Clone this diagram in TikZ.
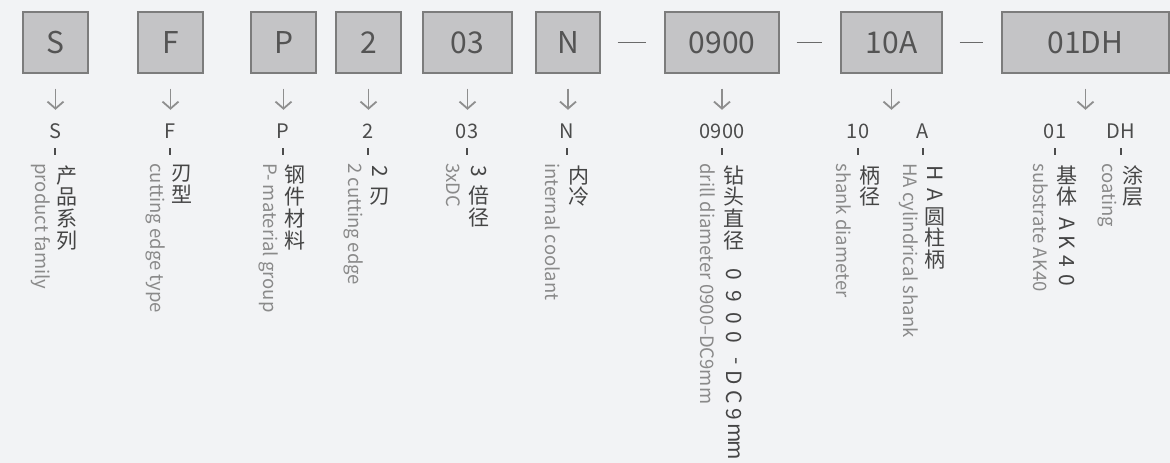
\documentclass[tikz,border=0pt]{standalone}
\usepackage{fontspec}
\setmainfont{Noto Sans CJK SC}
\usetikzlibrary{arrows.meta}

\definecolor{bgcol}{HTML}{F2F3F5}
\definecolor{boxfill}{HTML}{C4C4C6}
\definecolor{boxline}{HTML}{7C7C7C}
\definecolor{boxtext}{HTML}{545454}
\definecolor{arrowcol}{HTML}{8E8E8E}
\definecolor{sepcol}{HTML}{6A6A6A}
\definecolor{codecol}{HTML}{4C4C4C}
\definecolor{cncol}{HTML}{454545}
\definecolor{encol}{HTML}{8A8A8A}

\newcommand\rlat[1]{\rotatebox[origin=c]{-90}{#1}}

\tikzset{
  codebox/.style={draw=boxline, fill=boxfill, line width=1.2pt, minimum height=61pt,
    inner sep=0pt, text=boxtext, font=\fontsize{30}{30}\selectfont},
  codetxt/.style={anchor=base, inner sep=0pt, text height=15pt, text depth=0pt,
    text=codecol, font=\fontsize{20}{20}\selectfont},
  cnstack/.style={anchor=north, inner sep=0pt, align=center, text=cncol,
    font=\fontsize{21}{21.75}\selectfont},
  enstack/.style={rotate=-90, anchor=west, inner sep=0pt, text=encol,
    font=\fontsize{18.5}{18.5}\selectfont},
  downarrow/.style={draw=arrowcol, line width=1.8pt, -{Straight Barb[length=7pt,width=16pt]},
    shorten <=15pt, shorten >=13pt},
  tickline/.style={draw=codecol, line width=1.6pt},
  sepline/.style={draw=sepcol, line width=1.6pt, shorten <=17pt, shorten >=18pt}
}

\begin{document}
\begin{tikzpicture}[x=1pt, y=-1pt]
  \useasboundingbox (0,0) rectangle (1170,463);
  \fill[bgcol] (0,0) rectangle (1170,463);
  \foreach \b/\x/\w in {S/55.5/65, F/170.5/65, P/283.5/65, 2/368.5/65, 03/467.5/89,
      N/568/64, 0900/722/114, 10A/891.5/101, 01DH/1085.5/167} {
    \node[codebox, minimum width=\w pt] (b\b) at (\x,42.5) {\b};
  }
  \draw[sepline] (bN) -- (b0900);
  \draw[sepline] (b0900) -- (b10A);
  \draw[sepline] (b10A) -- (b01DH);
  \foreach \k/\x/\cn/\en in {
      S/55/{产\\品\\系\\列}/{product family},
      F/170/{刃\\型}/{cutting edge type},
      P/283/{钢\\件\\材\\料}/{P- material group},
      2/368/{\rlat{2}\\[3pt]刃}/{2 cutting edge},
      03/467/{\rlat{3}\\[3pt]倍\\径}/{3xDC},
      N/567/{内\\冷}/{internal coolant},
      0900/722/{钻\\头\\直\\径\\[12pt]\rlat{0}\\\rlat{9}\\\rlat{0}\\[-2pt]\rlat{0}\\[-3pt]\rlat{-}\\\rlat{D}\\[-3pt]\rlat{C}\\[-4pt]\rlat{9}\\[-5pt]\rlat{m}\\[-5pt]\rlat{m}}/{drill diameter 0900–DC9mm},
      10/858/{柄\\径}/{shank diameter},
      A/923/{\rlat{H}\\\rlat{A}\\圆\\柱\\柄}/{HA cylindrical shank},
      01/1055/{基\\体\\[5pt]\rlat{A}\\[-3pt]\rlat{K}\\[-3pt]\rlat{4}\\[-3pt]\rlat{0}}/{substrate AK40},
      DH/1121/{涂\\层}/{coating}} {
    \node[codetxt] (c\k) at (\x,138) {\k};
    \draw[tickline] ([yshift=-10pt]c\k.south) -- ([yshift=-17pt]c\k.south);
    \node[cnstack] (z\k) at ([xshift=12pt,yshift=-27pt]c\k.south) {\cn};
    \node[enstack] (e\k) at ([xshift=-14pt,yshift=-25pt]c\k.south) {\en};
  }
  \foreach \b in {S,F,P,2,03,N,0900,10A,01DH} {
    \draw[downarrow] (b\b.south) -- (b\b.south |- cS.north);
  }
\end{tikzpicture}
\end{document}
